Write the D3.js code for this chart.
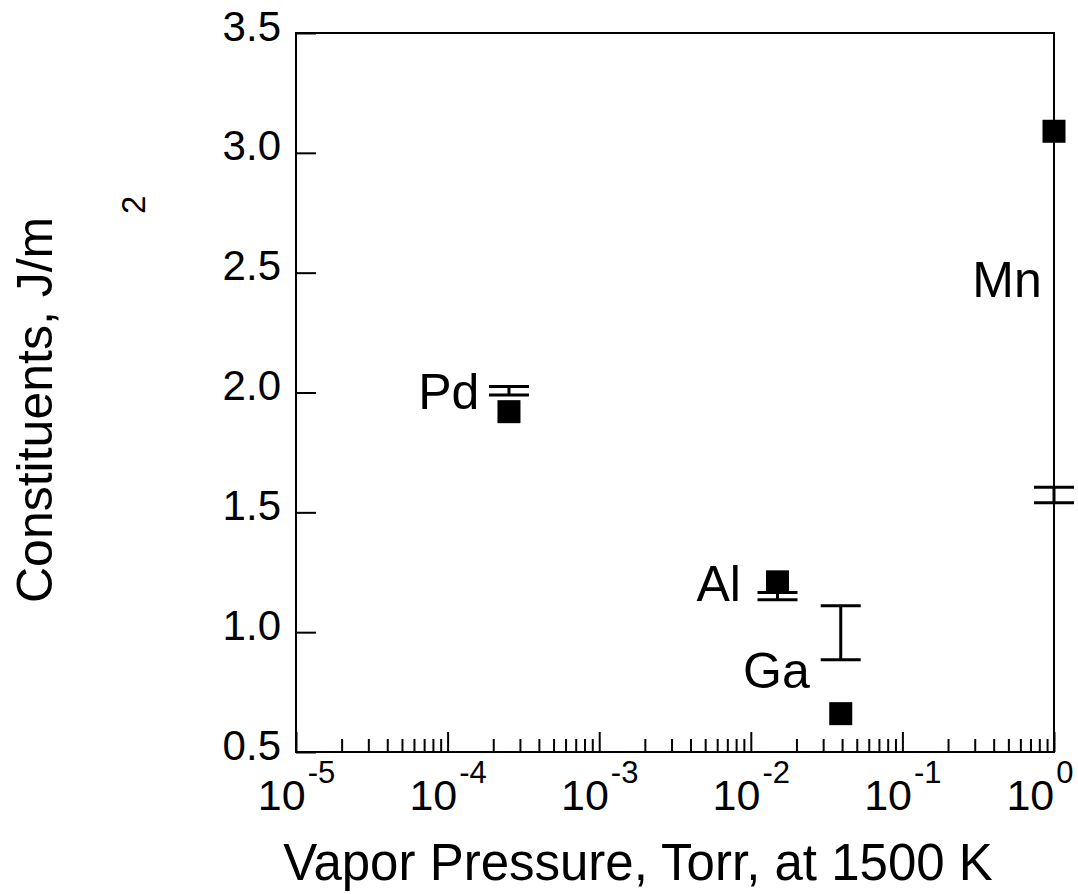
<!DOCTYPE html>
<html>
<head>
<meta charset="utf-8">
<script src="https://cdn.jsdelivr.net/npm/d3@7"></script>
<style>
    body { margin: 0; background: #fff; }
    text { font-family: "Liberation Sans", Arial, sans-serif; fill: #000; }
</style>
</head>
<body>
<div id="wrapper"></div>
<script>
//Data
const elements = ["Pd", "Al", "Ga", "Mn"];
const vaporPressure = [2.54e-4, 1.50e-2, 3.92e-2, 1.0];       // Torr at 1500 K
const surfaceEnergy = [1.92, 1.21, 0.66, 3.09];               // filled squares
const rangeLow = [1.99, 1.135, 0.885, 1.54];                  // lower cap of bars
const rangeHigh = [2.025, 1.165, 1.11, 1.605];                // upper cap of bars
//Where the element names sit (data units, right end of the text)
const labelPressure = [1.62e-4, 8.6e-3, 2.45e-2, 0.83];
const labelEnergy = [1.93, 1.13, 0.765, 2.40];
const yTicks = [0.5, 1.0, 1.5, 2.0, 2.5, 3.0, 3.5];

function buildPlot() {
    var dimension = {
        width: 1078,
        height: 894,
        margin: { top: 33, left: 296, bottom: 142, right: 24 }
    };
    dimension.boundedWidth = dimension.width - dimension.margin.left - dimension.margin.right;
    dimension.boundedHeight = dimension.height - dimension.margin.top - dimension.margin.bottom;

    const svg = d3.select("#wrapper").append("svg")
        .attr("width", dimension.width)
        .attr("height", dimension.height);

    const bounded = svg.append("g")
        .attr("transform", `translate(${dimension.margin.left},${dimension.margin.top})`);

    //Scales
    const xScaler = d3.scaleLog()
        .domain([1e-5, 1])
        .range([0, dimension.boundedWidth]);
    const yScaler = d3.scaleLinear()
        .domain([0.5, 3.5])
        .range([dimension.boundedHeight, 0]);

    const isDecade = d => Math.abs(Math.log10(d) - Math.round(Math.log10(d))) < 1e-9;

    //y axis, ticks pointing inward
    const yAxis = bounded.append("g")
        .call(d3.axisLeft(yScaler)
            .tickValues(yTicks)
            .tickSizeInner(-20)
            .tickSizeOuter(0)
            .tickPadding(15)
            .tickFormat(d3.format(".1f")));
    yAxis.select(".domain").remove();
    yAxis.selectAll(".tick line").attr("stroke", "#000").attr("stroke-width", 2);
    yAxis.selectAll(".tick text")
        .attr("font-size", 42)
        .attr("dy", "0.17em");

    //x axis, log with minor ticks
    const xAxis = bounded.append("g")
        .attr("transform", `translate(0,${dimension.boundedHeight})`)
        .call(d3.axisBottom(xScaler)
            .tickValues(xScaler.ticks())
            .tickSizeInner(-13)
            .tickSizeOuter(0)
            .tickPadding(0)
            .tickFormat(""));
    xAxis.select(".domain").remove();
    xAxis.selectAll(".tick line").attr("stroke", "#000").attr("stroke-width", 2)
        .filter(d => isDecade(d))
        .attr("y2", -20);

    //decade labels as 10 with a raised exponent
    const decadeLabel = xAxis.selectAll(".tick")
        .filter(d => isDecade(d))
        .select("text")
        .attr("y", 58)
        .attr("dy", null)
        .attr("font-size", 43);
    decadeLabel.append("tspan").text("10");
    decadeLabel.append("tspan")
        .attr("font-size", 31)
        .attr("dx", 2)
        .attr("dy", -27)
        .text(d => Math.round(Math.log10(d)));
    //last label is pushed in so it stays on the page
    decadeLabel.filter(d => d === xScaler.domain()[1])
        .attr("text-anchor", "end")
        .attr("x", 19);

    //frame
    bounded.append("rect")
        .attr("width", dimension.boundedWidth)
        .attr("height", dimension.boundedHeight)
        .attr("fill", "none")
        .attr("stroke", "#000")
        .attr("stroke-width", 2);

    //range bars
    const capHalf = 20;
    const bars = bounded.append("g")
        .attr("stroke", "#000")
        .attr("stroke-width", 3)
        .selectAll("g")
        .data(elements.map((e, i) => i))
        .join("g");
    bars.append("line")
        .attr("x1", i => xScaler(vaporPressure[i]))
        .attr("x2", i => xScaler(vaporPressure[i]))
        .attr("y1", i => yScaler(rangeLow[i]))
        .attr("y2", i => yScaler(rangeHigh[i]));
    bars.append("line")
        .attr("x1", i => xScaler(vaporPressure[i]) - capHalf)
        .attr("x2", i => xScaler(vaporPressure[i]) + capHalf)
        .attr("y1", i => yScaler(rangeLow[i]))
        .attr("y2", i => yScaler(rangeLow[i]));
    bars.append("line")
        .attr("x1", i => xScaler(vaporPressure[i]) - capHalf)
        .attr("x2", i => xScaler(vaporPressure[i]) + capHalf)
        .attr("y1", i => yScaler(rangeHigh[i]))
        .attr("y2", i => yScaler(rangeHigh[i]));

    //filled squares
    const side = 23;
    bounded.append("g")
        .selectAll("rect")
        .data(elements.map((e, i) => i))
        .join("rect")
        .attr("x", i => xScaler(vaporPressure[i]) - side / 2)
        .attr("y", i => yScaler(surfaceEnergy[i]) - side / 2)
        .attr("width", side)
        .attr("height", side)
        .attr("fill", "#000");

    //element names
    bounded.append("g")
        .selectAll("text")
        .data(elements.map((e, i) => i))
        .join("text")
        .attr("x", i => xScaler(labelPressure[i]))
        .attr("y", i => yScaler(labelEnergy[i]))
        .attr("text-anchor", "end")
        .attr("font-size", 50)
        .text(i => elements[i]);

    //axis titles
    svg.append("text")
        .attr("x", 638)
        .attr("y", 880)
        .attr("text-anchor", "middle")
        .attr("font-size", 51)
        .text("Vapor Pressure, Torr, at 1500 K");

    svg.append("text")
        .attr("transform", "translate(52,603) rotate(-90)")
        .attr("font-size", 50)
        .text("Constituents, J/m");

    svg.append("text")
        .attr("transform", "translate(145,214) rotate(-90)")
        .attr("font-size", 33)
        .text("2");
}

buildPlot();
</script>
</body>
</html>
